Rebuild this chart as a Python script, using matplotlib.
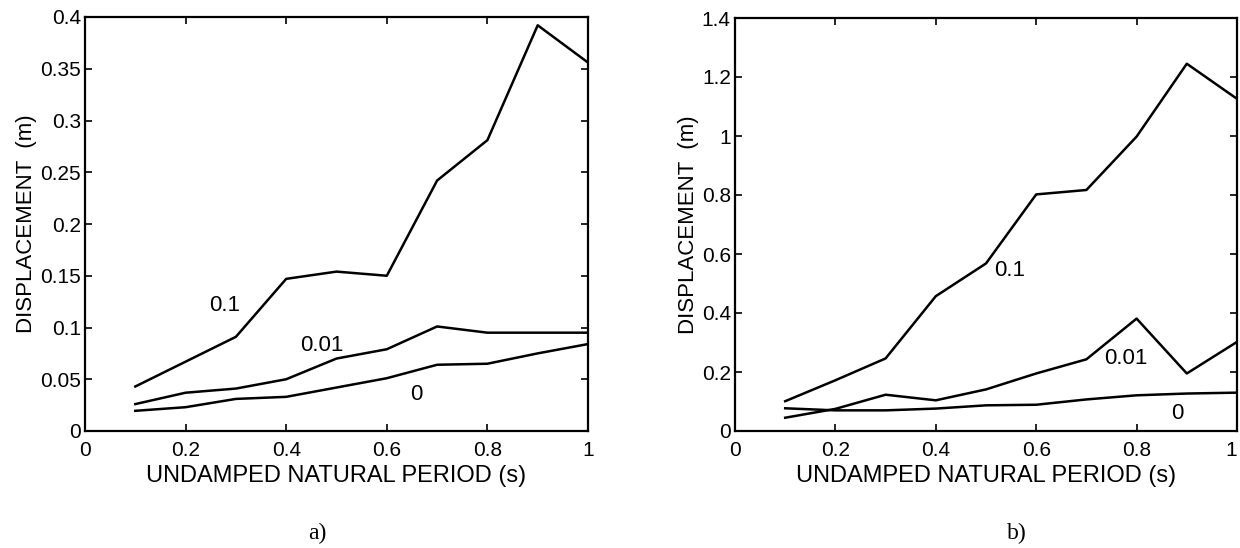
import matplotlib.pyplot as plt

# undamped natural period (s)
period = [0.1, 0.2, 0.3, 0.4, 0.5, 0.6, 0.7, 0.8, 0.9, 1.0]

# a) displacement (m) for damping 0.1, 0.01, 0
a_01 = [0.043, 0.067, 0.091, 0.147, 0.154, 0.150, 0.242, 0.281, 0.392, 0.356]
a_001 = [0.026, 0.037, 0.041, 0.050, 0.070, 0.079, 0.101, 0.095, 0.095, 0.095]
a_0 = [0.0195, 0.023, 0.031, 0.033, 0.042, 0.051, 0.064, 0.065, 0.075, 0.084]

# b) displacement (m)
b_01 = [0.101, 0.172, 0.246, 0.457, 0.568, 0.802, 0.817, 0.998, 1.245, 1.126]
b_001 = [0.045, 0.075, 0.123, 0.104, 0.141, 0.195, 0.243, 0.381, 0.195, 0.302]
b_0 = [0.077, 0.070, 0.070, 0.076, 0.087, 0.089, 0.107, 0.121, 0.127, 0.130]

xticks = [0, 0.2, 0.4, 0.6, 0.8, 1]
xtick_labels = ["0", "0.2", "0.4", "0.6", "0.8", "1"]
a_yticks = [0, 0.05, 0.1, 0.15, 0.2, 0.25, 0.3, 0.35, 0.4]
a_ylabels = ["0", "0.05", "0.1", "0.15", "0.2", "0.25", "0.3", "0.35", "0.4"]
b_yticks = [0, 0.2, 0.4, 0.6, 0.8, 1.0, 1.2, 1.4]
b_ylabels = ["0", "0.2", "0.4", "0.6", "0.8", "1", "1.2", "1.4"]

plt.rcParams['font.family'] = ['Liberation Sans', 'DejaVu Sans']

W, H = 1240, 548
fig = plt.figure(figsize=(W / 100, H / 100), dpi=100)

ax1 = fig.add_axes([85 / W, 1 - 431 / H, (588 - 85) / W, (431 - 17) / H])
ax2 = fig.add_axes([735 / W, 1 - 431 / H, (1237 - 735) / W, (431 - 18) / H])


def style(ax, yticks, ylabels, ymax):
    ax.set_xlim(0, 1)
    ax.set_ylim(0, ymax)
    ax.set_xticks(xticks)
    ax.set_xticklabels(xtick_labels)
    ax.set_yticks(yticks)
    ax.set_yticklabels(ylabels)
    ax.tick_params(direction='in', top=True, right=True, length=5,
                   width=1.2, labelsize=15)
    ax.tick_params(axis='x', pad=7)
    ax.tick_params(axis='y', pad=3)
    for s in ax.spines.values():
        s.set_linewidth(1.6)
    ax.set_xlabel("UNDAMPED NATURAL PERIOD (s)", fontsize=17, labelpad=4)
    ax.set_ylabel("DISPLACEMENT  (m)", fontsize=16, labelpad=2)


for y in (a_01, a_001, a_0):
    ax1.plot(period, y, color='black', lw=1.8)
for y in (b_01, b_001, b_0):
    ax2.plot(period, y, color='black', lw=1.8)

style(ax1, a_yticks, a_ylabels, 0.4)
style(ax2, b_yticks, b_ylabels, 1.4)

# last x tick label of the right panel sits at the figure edge
ax2.get_xticklabels()[-1].set_horizontalalignment('right')

ax1.text(0.278, 0.121, "0.1", fontsize=16, ha='center', va='center')
ax1.text(0.471, 0.083, "0.01", fontsize=16, ha='center', va='center')
ax1.text(0.658, 0.035, "0", fontsize=16, ha='center', va='center')

ax2.text(0.547, 0.543, "0.1", fontsize=16, ha='center', va='center')
ax2.text(0.779, 0.246, "0.01", fontsize=16, ha='center', va='center')
ax2.text(0.881, 0.059, "0", fontsize=16, ha='center', va='center')

fig.text(317 / W, 1 - 533 / H, "a)", fontsize=17, family='Liberation Serif',
         ha='center', va='center')
fig.text(1017 / W, 1 - 533 / H, "b)", fontsize=17, family='Liberation Serif',
         ha='center', va='center')

fig.savefig("out.png", dpi=100)
